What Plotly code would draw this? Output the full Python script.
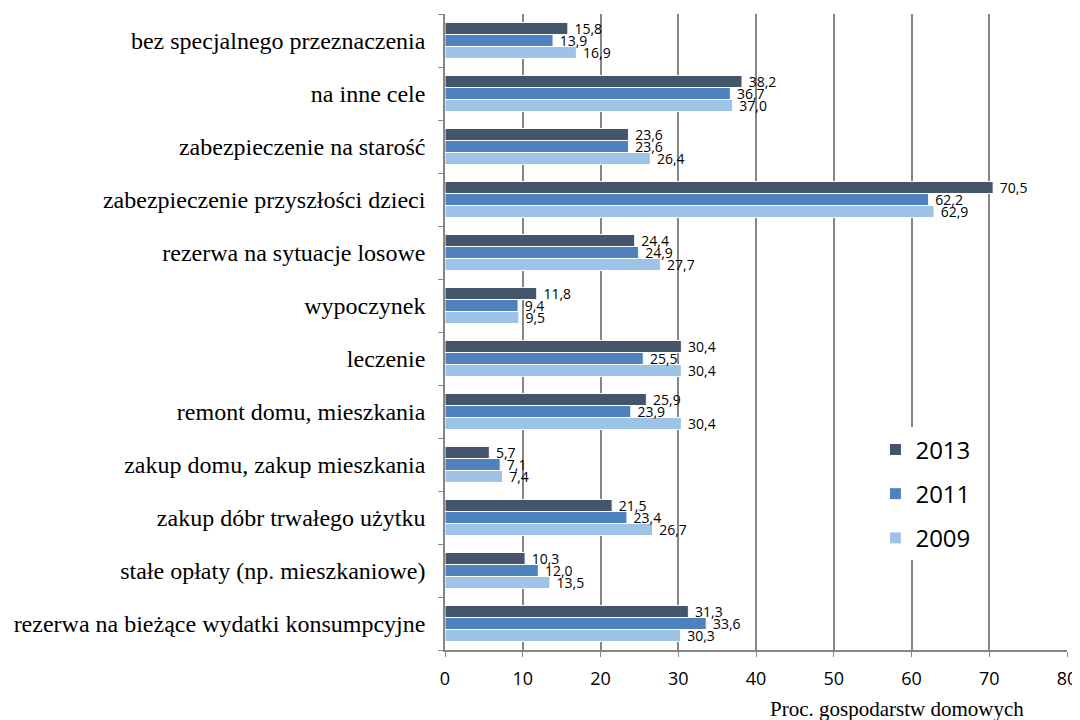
import plotly.graph_objects as go

categories = [
    "rezerwa na bieżące wydatki konsumpcyjne",
    "stałe opłaty (np. mieszkaniowe)",
    "zakup dóbr trwałego użytku",
    "zakup domu, zakup mieszkania",
    "remont domu, mieszkania",
    "leczenie",
    "wypoczynek",
    "rezerwa na sytuacje losowe",
    "zabezpieczenie przyszłości dzieci",
    "zabezpieczenie na starość",
    "na inne cele",
    "bez specjalnego przeznaczenia",
]
v2013 = [31.3, 10.3, 21.5, 5.7, 25.9, 30.4, 11.8, 24.4, 70.5, 23.6, 38.2, 15.8]
v2011 = [33.6, 12.0, 23.4, 7.1, 23.9, 25.5, 9.4, 24.9, 62.2, 23.6, 36.7, 13.9]
v2009 = [30.3, 13.5, 26.7, 7.4, 30.4, 30.4, 9.5, 27.7, 62.9, 26.4, 37.0, 16.9]
x_ticks = [0, 10, 20, 30, 40, 50, 60, 70, 80]

series = [
    ("2009", v2009, "#9DC3E6", 3),
    ("2011", v2011, "#4F81BD", 2),
    ("2013", v2013, "#44546A", 1),
]

fig = go.Figure()
for name, vals, col, rank in series:
    fig.add_trace(go.Bar(
        y=categories, x=vals, name=name, orientation="h",
        marker=dict(color=col, line=dict(color="white", width=1)),
        text=["\u00a0" + f"{v:.1f}".replace(".", ",") for v in vals],
        textposition="outside",
        textfont=dict(family="Open Sans, Liberation Sans, sans-serif", size=14, color="black"),
        cliponaxis=False,
        legendgroup=name, legendrank=rank,
    ))

fig.update_layout(
    width=1080, height=720,
    barmode="group", bargap=0.32, bargroupgap=0.0,
    uniformtext=dict(minsize=14, mode="show"),
    plot_bgcolor="white", paper_bgcolor="white",
    margin=dict(l=435, r=21, t=6, b=78),
    showlegend=True,
    legend=dict(
        x=0.692, y=0.35, xanchor="left", yanchor="top",
        traceorder="grouped", tracegroupgap=10,
        font=dict(family="Open Sans, Liberation Sans, sans-serif", size=24, color="black"),
        bgcolor="white",
    ),
    xaxis=dict(
        range=[0, 80], tickmode="array", tickvals=x_ticks,
        showgrid=True, gridcolor="#868686", gridwidth=1.5,
        zeroline=False, showline=True, linecolor="#868686", linewidth=1.5,
        ticks="outside", ticklen=5, tickcolor="#868686",
        tickfont=dict(family="Open Sans, Liberation Sans, sans-serif", size=18, color="black"),
        ticklabelstandoff=7,
        fixedrange=True,
    ),
    yaxis=dict(
        showline=True, linecolor="#868686", linewidth=1.5,
        ticks="outside", ticklen=5, tickcolor="#868686", tickson="boundaries",
        tickfont=dict(family="Liberation Serif, Times New Roman, serif", size=24, color="black"),
        ticklabelstandoff=13,
    ),
    annotations=[dict(
        text="Proc. gospodarstw domowych", xref="paper", yref="paper",
        x=0.934, y=-0.093, xanchor="right", yanchor="middle", showarrow=False,
        font=dict(family="Liberation Serif, Times New Roman, serif", size=21, color="black"),
    )],
)

fig.write_html("out.html")
